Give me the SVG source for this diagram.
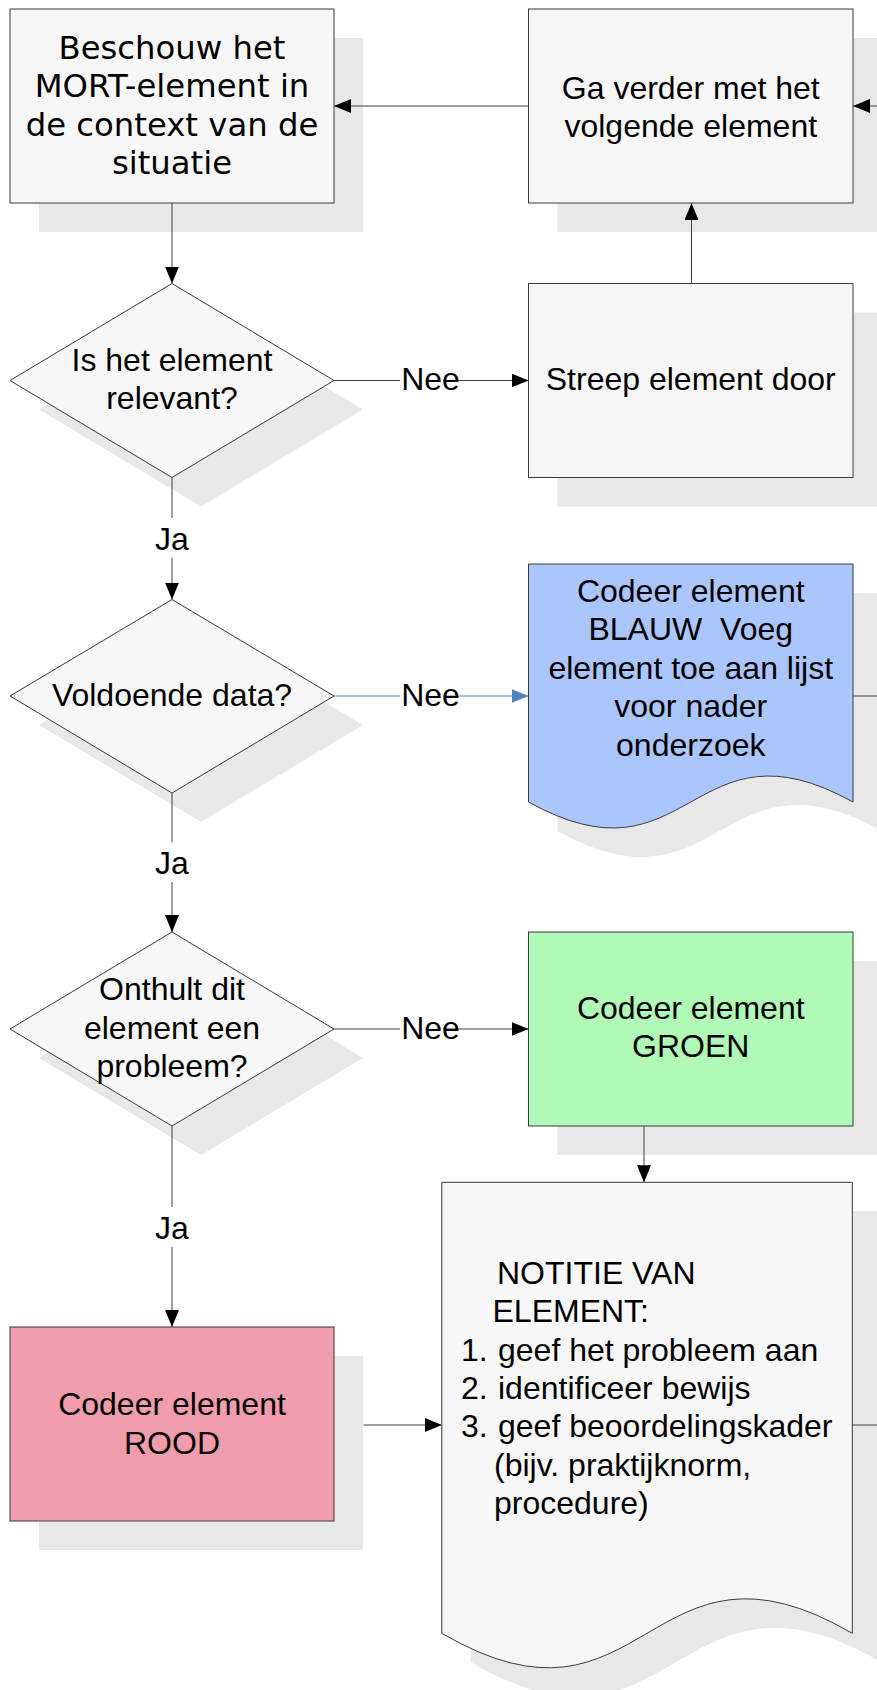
<svg xmlns="http://www.w3.org/2000/svg" width="877" height="1690" viewBox="0 0 877 1690">
  <style>
    .shadow { fill: #e8e8e8; stroke: none; }
    .box { fill: #f7f7f7; stroke: #3a3a3a; stroke-width: 1; }
    .blue-fill { fill: #abc6fd; }
    .green-fill { fill: #b1f9b7; }
    .red-fill { fill: #f29dae; }
    .t { font-family: "Liberation Sans", Arial, sans-serif; font-size: 32px; fill: #000; }
    .v { font-family: "DejaVu Sans", Verdana, sans-serif; font-size: 32.3px; fill: #000; }
    .c { text-anchor: middle; }
    .conn { stroke: #404040; stroke-width: 1; fill: none; }
    .conn-blue { stroke: #4f81bd; stroke-width: 1; fill: none; }
  </style>
  <defs>
    <marker id="arrow" markerUnits="userSpaceOnUse" markerWidth="18" markerHeight="16" refX="17" refY="7" orient="auto">
      <path d="M0,0 L17,7 L0,14 Z" fill="#000"/>
    </marker>
    <marker id="arrow-blue" markerUnits="userSpaceOnUse" markerWidth="18" markerHeight="16" refX="17" refY="7" orient="auto">
      <path d="M0,0 L17,7 L0,14 Z" fill="#4f81bd"/>
    </marker>
    <path id="doc-blue" d="M528.5,564 H853 V802 C690.75,712 690.75,892 528.5,802 Z"/>
    <path id="doc-note" d="M441.8,1182.3 H852.3 V1633.3 C647,1513.8 647,1752.8 441.8,1633.3 Z"/>
  </defs>

  <!-- drop shadows -->
  <g id="shadows">
    <rect class="shadow" x="39" y="38" width="324" height="194"/>
    <rect class="shadow" x="557.5" y="38" width="324.5" height="194"/>
    <rect class="shadow" x="557.5" y="312.5" width="324.5" height="194"/>
    <polygon class="shadow" points="201,312.5 363,409.5 201,506.5 39,409.5"/>
    <polygon class="shadow" points="201,628 363,725 201,822 39,725"/>
    <use href="#doc-blue" class="shadow" transform="translate(29,29)"/>
    <polygon class="shadow" points="201,961 363,1058 201,1155 39,1058"/>
    <rect class="shadow" x="557.5" y="961" width="324.5" height="194"/>
    <rect class="shadow" x="39" y="1356" width="324" height="194"/>
    <use href="#doc-note" class="shadow" transform="translate(29,29)"/>
  </g>

  <!-- connectors -->
  <g id="connectors">
    <line class="conn" x1="877" y1="106" x2="853" y2="106" marker-end="url(#arrow)"/>
    <line class="conn" x1="528.5" y1="106" x2="334" y2="106" marker-end="url(#arrow)"/>
    <line class="conn" x1="691.5" y1="283.5" x2="691.5" y2="203" marker-end="url(#arrow)"/>
    <line class="conn" x1="172" y1="203" x2="172" y2="283.5" marker-end="url(#arrow)"/>

    <line class="conn" x1="334" y1="380.5" x2="400" y2="380.5"/>
    <line class="conn" x1="443" y1="380.5" x2="528.5" y2="380.5" marker-end="url(#arrow)"/>
    <text class="t c" x="430.5" y="390">Nee</text>

    <line class="conn" x1="172" y1="477.5" x2="172" y2="518"/>
    <line class="conn" x1="172" y1="558" x2="172" y2="599.5" marker-end="url(#arrow)"/>
    <text class="t c" x="172" y="550">Ja</text>

    <line class="conn-blue" x1="334" y1="696" x2="400" y2="696"/>
    <line class="conn-blue" x1="443" y1="696" x2="528.5" y2="696" marker-end="url(#arrow-blue)"/>
    <text class="t c" x="430.5" y="705.5">Nee</text>
    <line class="conn" x1="853" y1="696" x2="877" y2="696"/>

    <line class="conn" x1="172" y1="793" x2="172" y2="842"/>
    <line class="conn" x1="172" y1="882" x2="172" y2="932" marker-end="url(#arrow)"/>
    <text class="t c" x="172" y="873.5">Ja</text>

    <line class="conn" x1="334" y1="1029" x2="400" y2="1029"/>
    <line class="conn" x1="443" y1="1029" x2="528.5" y2="1029" marker-end="url(#arrow)"/>
    <text class="t c" x="430.5" y="1038.5">Nee</text>

    <line class="conn" x1="644" y1="1126" x2="644" y2="1182.3" marker-end="url(#arrow)"/>

    <line class="conn" x1="172" y1="1126" x2="172" y2="1207"/>
    <line class="conn" x1="172" y1="1247" x2="172" y2="1327" marker-end="url(#arrow)"/>
    <text class="t c" x="172" y="1238.5">Ja</text>

    <line class="conn" x1="363.5" y1="1425" x2="441.8" y2="1425" marker-end="url(#arrow)"/>
    <line class="conn" x1="852.3" y1="1425" x2="877" y2="1425"/>
  </g>

  <!-- process: consider element -->
  <g id="consider">
    <rect class="box" x="10" y="9" width="324" height="194"/>
    <text class="v c" x="172" y="59">Beschouw het</text>
    <text class="v c" x="172" y="97.3">MORT-element in</text>
    <text class="v c" x="172" y="135.6">de context van de</text>
    <text class="v c" x="172" y="174">situatie</text>
  </g>

  <!-- process: next element -->
  <g id="next">
    <rect class="box" x="528.5" y="9" width="324.5" height="194"/>
    <text class="t c" x="690.75" y="98.5">Ga verder met het</text>
    <text class="t c" x="690.75" y="137">volgende element</text>
  </g>

  <!-- decision: relevant -->
  <g id="relevant">
    <polygon class="box" points="172,283.5 334,380.5 172,477.5 10,380.5"/>
    <text class="t c" x="172" y="371">Is het element</text>
    <text class="t c" x="172" y="409">relevant?</text>
  </g>

  <!-- process: strike through -->
  <g id="strike">
    <rect class="box" x="528.5" y="283.5" width="324.5" height="194"/>
    <text class="t c" x="690.75" y="390">Streep element door</text>
  </g>

  <!-- decision: enough data -->
  <g id="data">
    <polygon class="box" points="172,599.5 334,696 172,793 10,696"/>
    <text class="t c" x="172" y="705.5">Voldoende data?</text>
  </g>

  <!-- document: code blue -->
  <g id="blue">
    <use href="#doc-blue" class="box blue-fill"/>
    <text class="t c" x="690.75" y="601.5">Codeer element</text>
    <text class="t c" x="690.75" y="640" xml:space="preserve">BLAUW  Voeg</text>
    <text class="t c" x="690.75" y="678.5">element toe aan lijst</text>
    <text class="t c" x="690.75" y="717">voor nader</text>
    <text class="t c" x="690.75" y="755.5">onderzoek</text>
  </g>

  <!-- decision: problem -->
  <g id="problem">
    <polygon class="box" points="172,932 334,1029 172,1126 10,1029"/>
    <text class="t c" x="172" y="1000">Onthult dit</text>
    <text class="t c" x="172" y="1038.5">element een</text>
    <text class="t c" x="172" y="1077">probleem?</text>
  </g>

  <!-- process: code green -->
  <g id="green">
    <rect class="box green-fill" x="528.5" y="932" width="324.5" height="194"/>
    <text class="t c" x="690.75" y="1018.5">Codeer element</text>
    <text class="t c" x="690.75" y="1057">GROEN</text>
  </g>

  <!-- process: code red -->
  <g id="red">
    <rect class="box red-fill" x="10" y="1327" width="324" height="194"/>
    <text class="t c" x="172" y="1415">Codeer element</text>
    <text class="t c" x="172" y="1453.5">ROOD</text>
  </g>

  <!-- document: note of element -->
  <g id="note">
    <use href="#doc-note" class="box"/>
    <text class="t" x="497" y="1284">NOTITIE VAN</text>
    <text class="t" x="492.5" y="1322.3">ELEMENT:</text>
    <text class="t" y="1360.6"><tspan x="461">1.</tspan><tspan x="498">geef het probleem aan</tspan></text>
    <text class="t" y="1398.9"><tspan x="461">2.</tspan><tspan x="498">identificeer bewijs</tspan></text>
    <text class="t" y="1437.2"><tspan x="461">3.</tspan><tspan x="498">geef beoordelingskader</tspan></text>
    <text class="t" x="494" y="1475.5">(bijv. praktijknorm,</text>
    <text class="t" x="494" y="1513.8">procedure)</text>
  </g>
</svg>
